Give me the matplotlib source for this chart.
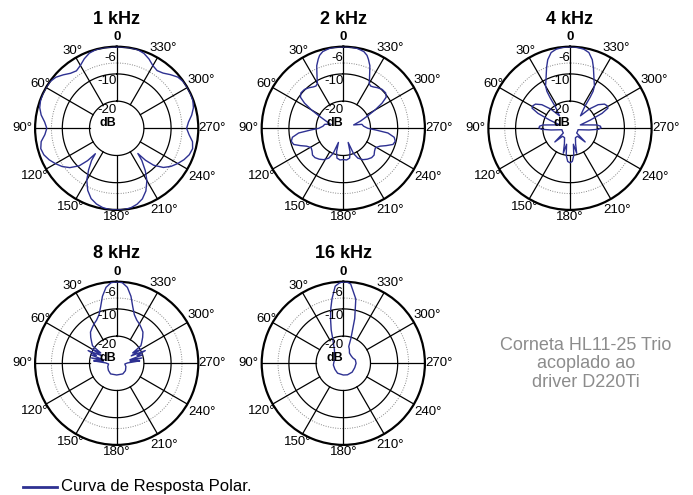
import numpy as np
import matplotlib.pyplot as plt

plt.rcParams['font.family'] = ['Liberation Sans', 'DejaVu Sans']

W, H = 693, 495
BLUE = '#2e3192'

titles = ['1 kHz', '2 kHz', '4 kHz', '8 kHz', '16 kHz']

# angles in degrees (counter-clockwise from top), levels in dB
ang_1k = [0, 5, 10, 15, 20, 25, 30, 35, 40, 45, 50, 55, 60, 65, 70, 75, 80, 85, 90,
          95, 100, 105, 110, 115, 120, 125, 130, 135, 138, 140, 142, 146, 150, 155,
          160, 165, 170, 175, 180,
          185, 190, 195, 200, 205, 210, 214, 218, 220, 222, 225, 230, 235, 240, 245,
          250, 255, 260, 265, 270, 275, 280, 285, 290, 295, 300, 305, 310, 315, 320,
          325, 330, 335, 340, 345, 350, 355, 360]
db_1k = [0, 0, 0, -0.1, -0.6, -1.8, -3.3, -4.2, -3.6, -2.2, -0.8, -0.1, 0, 0, -0.2, -0.7, -1.8, -3.4, -4.3,
         -3.5, -1.8, -1.1, -1.5, -2.6, -4.0, -5.5, -7.5, -10.5, -14, -17.8, -15, -11.5, -8, -4.8,
         -2.5, -1.2, -0.4, 0, 0,
         0, -0.3, -1.1, -2.4, -4.6, -7.8, -11.2, -15, -17.9, -14.2, -10.8, -7.6, -5.6, -4.1, -2.7,
         -1.6, -1.1, -1.7, -3.3, -4.3, -3.5, -2.0, -0.8, -0.2, 0, 0, -0.1, -0.7, -2.1, -3.5,
         -4.1, -3.4, -1.9, -0.7, -0.1, 0, 0, 0]

ang_2k = [0, 5, 10, 15, 18, 20, 23, 25, 28, 30, 33, 36, 40, 45, 50, 54, 57, 60, 63, 67,
          72, 78, 84, 90, 93, 96, 100, 104, 108, 112, 116, 121, 126, 131, 136, 142, 148,
          154, 158, 161, 164, 168, 174, 180,
          186, 192, 196, 199, 202, 206, 212, 218, 224, 229, 234, 239, 244, 248, 252, 256,
          260, 264, 267, 270, 276, 282, 288, 293, 297, 300, 303, 306, 310, 315, 320, 324,
          327, 330, 332, 335, 337, 340, 342, 345, 350, 355, 360]
db_2k = [0, 0, -0.2, -0.8, -1.8, -3, -5, -7, -9.5, -11, -11.5, -11.2, -10.5, -9.8, -9.7, -10.5, -13, -16.5, -20, -23,
         -25, -23, -22.5, -21, -18, -13.5, -11, -10.3, -10.8, -13, -15, -16.2, -15.8, -15, -15, -15.6, -16.4,
         -17.8, -20, -24.5, -21, -18.8, -18.3, -18.5,
         -18.3, -18.8, -21, -24.5, -20, -17.8, -16.4, -15.6, -15, -15, -15.8, -16.2, -15, -13, -10.8, -10.3,
         -11, -13.5, -18, -21, -22.5, -23, -26, -23, -20, -16.5, -13, -10.5, -9.7, -9.8, -10.5, -11.2,
         -11.5, -11, -9.5, -7, -5, -3, -1.8, -0.8, -0.2, 0, 0]

ang_4k = [0, 5, 10, 14, 18, 21, 24, 27, 30, 32, 33, 34, 36, 40, 45, 50, 55, 59, 62, 65,
          68, 72, 78, 83, 86, 89, 92, 95, 100, 110, 125, 132, 137, 150, 160, 165, 168,
          172, 176, 180,
          184, 188, 192, 195, 200, 210, 223, 228, 235, 250, 260, 265, 268, 271, 274, 277,
          282, 288, 292, 295, 298, 301, 305, 310, 315, 320, 324, 326, 327, 328, 330, 333,
          336, 339, 342, 346, 350, 355, 360]
db_4k = [0, -0.1, -0.5, -1.3, -3.5, -6, -8.5, -10.5, -12, -14, -16.5, -20, -22, -24, -20, -16.5, -14.5, -14, -14.2, -17,
         -22, -26, -24, -20, -18.8, -18.6, -19.5, -23, -27, -27, -27, -22.5, -26, -26, -24, -20.5, -24,
         -20, -17.8, -17.3,
         -17.8, -20, -24, -20.5, -24, -26, -26, -22.5, -27, -27, -27, -23, -19.5, -18.6, -18.8, -20,
         -24, -26, -22, -17, -14.2, -14, -14.5, -16.5, -20, -24, -22, -20, -16.5, -14, -12, -10.5,
         -8.5, -6, -3.5, -1.3, -0.5, -0.1, 0]

ang_8k = [0, 4, 8, 12, 16, 20, 25, 30, 35, 40, 45, 50, 54, 57, 60, 63, 66, 69, 72, 75,
          78, 81, 84, 88, 95, 110, 130, 150, 180,
          210, 230, 250, 265, 272, 276, 279, 282, 285, 288, 291, 294, 297, 300, 303, 306,
          310, 315, 320, 325, 330, 335, 340, 344, 348, 352, 356, 360]
db_8k = [0, -0.3, -1.8, -4.8, -8.5, -11, -12.5, -13.3, -14.2, -15, -16.5, -18, -19, -23, -19.5, -24, -18.5, -22, -20, -25,
         -20.5, -25, -21.5, -26, -27, -26.5, -26, -25.5, -25.7,
         -25.5, -25.8, -26.4, -27, -26, -21.5, -25, -20.5, -25, -20, -22, -18.5, -24, -19.5, -23, -19,
         -18, -16.5, -15, -14.2, -13.3, -12.5, -11, -8.5, -4.8, -1.8, -0.3, 0]

ang_16k = [0, 3, 6, 10, 13, 16, 20, 23, 28, 33, 45, 60, 83, 100, 126, 150, 180,
           200, 225, 249, 270, 286, 300, 315, 329, 336, 342, 343, 345.7, 349, 354.7, 357, 360]
db_16k = [0, -0.5, -1.5, -6, -9.5, -13, -17, -20, -22.5, -24, -25.5, -26.5, -26.5, -26.3, -26.2, -25.8, -25.7,
          -25.5, -25.4, -25.5, -25.3, -25.4, -26, -26, -25.6, -24.5, -23.5, -20.4, -13, -5.9, -0.7, -0.2, 0]

angles = [ang_1k, ang_2k, ang_4k, ang_8k, ang_16k]
levels = [db_1k, db_2k, db_4k, db_8k, db_16k]

# angle label: (angle, text, distance from centre in px)
angle_labels = [(0, '0', 91), (30, '30°', 89.5), (60, '60°', 88.6), (90, '90°', 94.7),
                (120, '120°', 94.8), (150, '150°', 91.3), (180, '180°', 88.4),
                (210, '210°', 94.3), (240, '240°', 98.6), (270, '270°', 95.8),
                (300, '300°', 97.6), (330, '330°', 93)]
ring_labels = [('-6', -4.0), ('-10', -12.7), ('-20', -23.4)]

centers = [(116.7, 128.3), (343.3, 128.3), (570, 128.3), (116.7, 363.3), (343.3, 363.3)]
title_y = [19, 19, 19, 253.5, 253.5]
R0 = 81.6           # radius of the 0 dB circle in px
PX_PER_DB = 2.76

fig = plt.figure(figsize=(W / 100, H / 100), dpi=100)
t = np.linspace(0, 2 * np.pi, 361)

for (cx, cy), title, ty, ang, db in zip(centers, titles, title_y, angles, levels):
    ax = fig.add_axes([(cx - R0) / W, 1 - (cy + R0) / H, 2 * R0 / W, 2 * R0 / H], projection='polar')
    ax.set_theta_zero_location('N')
    ax.set_theta_direction(1)
    ax.set_ylim(-30, 0)
    ax.grid(False)
    ax.set_xticks([])
    ax.set_yticks([])
    ax.spines['polar'].set_linewidth(1.6)

    # grid
    for r in (-20, -10):
        ax.plot(t, np.full_like(t, r), color='black', lw=0.9)
    ax.plot(t, np.full_like(t, -6), color='#888888', lw=0.7, ls=(0, (1, 1.5)))
    for a in range(0, 360, 30):
        ax.plot([np.radians(a)] * 2, [-20, 0], color='black', lw=0.9)

    ax.plot(np.radians(ang), db, color=BLUE, lw=1.0, zorder=3)

    for a, lab, R in angle_labels:
        ax.text(np.radians(a), (R - R0) / PX_PER_DB, lab, ha='center', va='center',
                fontsize=9.5, fontweight='bold' if lab == '0' else 'normal', clip_on=False)
    for lab, r in ring_labels:
        ax.text(0, r, lab, ha='right', va='center', fontsize=9.5, zorder=4)
    ax.text(0, -27.9, 'dB', ha='right', va='center', fontsize=9, fontweight='bold', zorder=4)

    fig.text(cx / W, 1 - ty / H, title, ha='center', va='center', fontsize=13, fontweight='bold')

fig.text(586 / W, 1 - 364 / H, 'Corneta HL11-25 Trio\nacoplado ao\ndriver D220Ti',
         ha='center', va='center', fontsize=13, color='#8c8c8c', linespacing=1.15)

# legend
fig.add_artist(plt.Line2D([23 / W, 57 / W], [1 - 487 / H] * 2, color=BLUE, lw=2))
fig.text(61 / W, 1 - 487 / H, 'Curva de Resposta Polar.', ha='left', va='center', fontsize=12)

fig.savefig('out.png', dpi=100, facecolor='white')
